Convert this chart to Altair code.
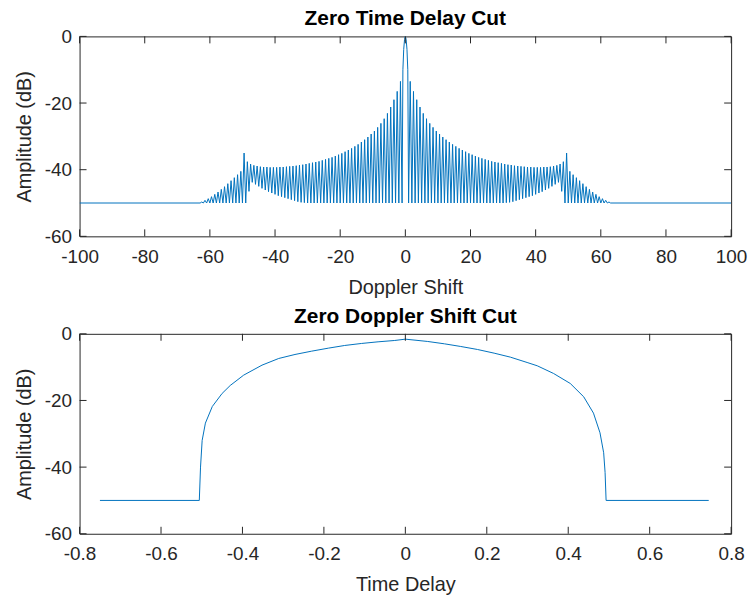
import altair as alt
import pandas as pd

# ---------------- data ----------------
# Zero time delay cut: main lobe samples (Doppler, dB), positive side
main_x = [0.0, 0.25, 0.5, 0.75]
main_db = [0.0, -0.9, -3.9, -10.0]

# sidelobe peaks at Doppler 1.5, 2.5, ..., 62.5 (positive side; picture is symmetric)
peak_db = [-13.5, -16.5, -19.0, -21.2, -23.1, -24.7, -26.1, -27.3, -28.4, -29.3,
           -30.2, -31.0, -31.7, -32.4, -33.0, -33.6, -34.1, -34.6, -35.1, -35.5,
           -35.9, -36.3, -36.6, -36.9, -37.2, -37.5, -37.7, -37.9, -38.1, -38.3,
           -38.5, -38.6, -38.8, -38.9, -39.0, -39.1, -39.2, -39.2, -39.3, -39.3,
           -39.3, -39.2, -39.2, -39.1, -38.9, -38.7, -38.3, -37.6, -35.0, -40.5,
           -41.5, -42.4, -43.3, -44.2, -45.1, -45.9, -46.7, -47.4, -48.1, -48.7,
           -49.2, -49.7]
# nulls between lobes at Doppler 1, 2, ..., 63
null_db = [-50] * 30 + [-49.9, -49.8, -49.6, -49.3, -49.0, -48.7, -48.4, -48.1,
                        -47.8, -47.4, -47.0, -46.6, -46.1, -45.6, -45.0, -44.4,
                        -43.8, -46.5, -50.0] + [-50] * 14
floor_x = [100.0]
floor_db = [-50.0]

# Zero Doppler shift cut (time delay, dB)
tau = [-0.75, -0.506, -0.503, -0.499, -0.491, -0.474, -0.45, -0.43, -0.397, -0.352,
       -0.311, -0.271, -0.23, -0.189, -0.149, -0.108, -0.067, -0.026, 0.0, 0.055,
       0.096, 0.136, 0.177, 0.218, 0.258, 0.299, 0.324, 0.364, 0.405, 0.438,
       0.462, 0.478, 0.487, 0.4905, 0.493, 0.745]
tau_db = [-50, -50, -40, -32, -26.8, -21.8, -17.9, -15.5, -12.4, -9.4,
          -7.4, -6.2, -5.2, -4.3, -3.5, -2.9, -2.4, -2.0, -1.6, -2.3,
          -3.0, -3.8, -4.7, -5.8, -7.0, -8.6, -9.6, -11.9, -14.9, -18.9,
          -23.8, -29.7, -35.7, -41.6, -50, -50]

top_xticks = [-100, -80, -60, -40, -20, 0, 20, 40, 60, 80, 100]
bot_xticks = [-0.8, -0.6, -0.4, -0.2, 0.0, 0.2, 0.4, 0.6, 0.8]
yticks = [-60, -40, -20, 0]

# ---------------- build tables ----------------
pos_x, pos_y = list(main_x), list(main_db)
for i, v in enumerate(null_db):
    pos_x.append(i + 1.0); pos_y.append(v)
for i, v in enumerate(peak_db):
    pos_x.append(i + 1.5); pos_y.append(v)
pos_x += floor_x; pos_y += floor_db
dx = pos_x + [-x for x in pos_x if x != 0]
dy = pos_y + [y for x, y in zip(pos_x, pos_y) if x != 0]
top_df = pd.DataFrame({"x": dx, "y": dy}).sort_values("x")
bot_df = pd.DataFrame({"x": tau, "y": tau_db})

W, H = 655, 201
LINE = "#0072BD"
AX = "#262626"
FONT = "Liberation Sans"
TL = 7

lab_int = "datum.value < 0 ? '-' + format(-datum.value, 'd') : format(datum.value, 'd')"
lab_dec = ("abs(datum.value) < 1e-9 ? '0' : (datum.value < 0 ? '-' : '') + "
           "format(abs(datum.value), '.1f')")


def panel(df, xdom, xticks, xlabexpr, xtitle, title):
    xs = alt.Scale(domain=xdom, nice=False, zero=False)
    ys = alt.Scale(domain=[-60, 0], nice=False)
    xax = alt.Axis(values=xticks, labelExpr=xlabexpr, ticks=False,
                   domain=False, grid=False, labelPadding=11,
                   titlePadding=11, labelFlush=False)
    yax = alt.Axis(values=yticks, labelExpr=lab_int, ticks=False,
                   domain=False, grid=False, labelPadding=8,
                   titlePadding=10, labelFlush=False)
    X = lambda: alt.X("x:Q", scale=xs, title=xtitle, axis=xax)
    Y = lambda: alt.Y("y:Q", scale=ys, title="Amplitude (dB)", axis=yax)
    line = alt.Chart(df).mark_line(color=LINE, strokeWidth=1, clip=True).encode(
        x=X(), y=Y())
    xt = pd.DataFrame({"x": xticks})
    yt = pd.DataFrame({"y": yticks})
    xb = alt.Chart(xt).mark_rule(color=AX, strokeWidth=1).encode(
        x=X(), y=alt.value(H), y2=alt.value(H - TL))
    xtp = alt.Chart(xt).mark_rule(color=AX, strokeWidth=1).encode(
        x=X(), y=alt.value(0), y2=alt.value(TL))
    yl = alt.Chart(yt).mark_rule(color=AX, strokeWidth=1).encode(
        y=Y(), x=alt.value(0), x2=alt.value(TL))
    yr = alt.Chart(yt).mark_rule(color=AX, strokeWidth=1).encode(
        y=Y(), x=alt.value(W - TL), x2=alt.value(W))
    return alt.layer(line, xb, xtp, yl, yr).properties(
        width=W, height=H,
        title=alt.TitleParams(title, fontSize=21, fontWeight="bold", font=FONT,
                              color="black", offset=-2, anchor="middle"))


top = panel(top_df, [-100, 100], top_xticks, lab_int, "Doppler Shift", "Zero Time Delay Cut")
bot = panel(bot_df, [-0.8, 0.8], bot_xticks, lab_dec, "Time Delay", "Zero Doppler Shift Cut")

chart = alt.vconcat(top, bot, spacing=7).properties(
    padding={"left": 14, "top": 6, "right": 5, "bottom": 2},
    background="white",
).configure_view(stroke=AX, strokeWidth=1).configure_axis(
    labelFont=FONT, titleFont=FONT, labelFontSize=19, titleFontSize=20,
    labelColor=AX, titleColor=AX, titleFontWeight="normal"
)

chart.save("out.html", embed_options={"renderer": "svg", "actions": False})
